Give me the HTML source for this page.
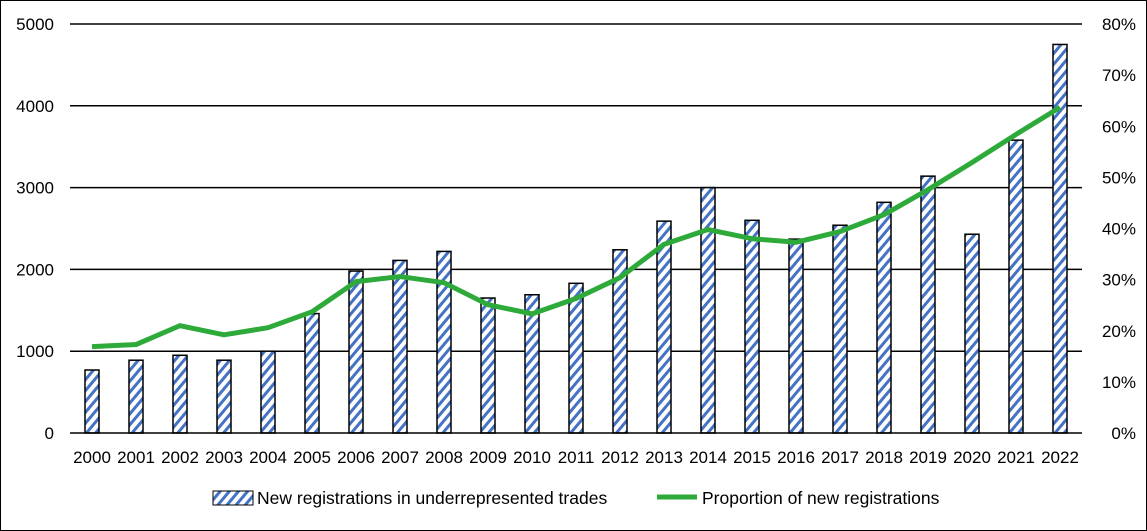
<!DOCTYPE html>
<html><head><meta charset="utf-8"><style>
html,body{margin:0;padding:0;background:#fff}
svg{display:block;font-family:"Liberation Sans",Calibri,sans-serif}
</style></head><body>
<svg id="c" width="1147" height="531" viewBox="0 0 1147 531">
<defs><pattern id="hatch" patternUnits="userSpaceOnUse" width="7" height="7" patternTransform="rotate(40)">
<rect width="7" height="7" fill="#fff"/><rect width="3" height="7" fill="#4472c4"/></pattern></defs>
<rect x="0.5" y="0.5" width="1146" height="530" fill="#fff" stroke="#000"/>
<g id="grid"></g><g id="bars"></g><g id="line"></g><g id="axes"></g>
<g>
<rect x="213" y="491" width="40" height="14" fill="url(#hatch)" stroke="#000"/>
<text x="257" y="504" font-size="17.5">New registrations in underrepresented trades</text>
<line x1="657" y1="497" x2="697" y2="497" stroke="#2eaa3a" stroke-width="5"/>
<text x="702" y="504" font-size="17.5">Proportion of new registrations</text>
</g>
</svg>
<script>
const years=["2000","2001","2002","2003","2004","2005","2006","2007","2008","2009","2010","2011","2012","2013","2014","2015","2016","2017","2018","2019","2020","2021","2022"];
const registrations=[770,890,950,890,1000,1460,1980,2110,2220,1650,1690,1830,2240,2590,3000,2600,2370,2540,2820,3140,2430,3580,4750];
const proportion=[16.9,17.3,21,19.2,20.6,23.7,29.6,30.6,29.4,25.1,23.3,26.3,30.4,36.9,39.8,38,37.3,39.4,42.7,47.6,52.9,58.4,63.7];
const leftTicks=[0,1000,2000,3000,4000,5000];
const rightTicks=[0,10,20,30,40,50,60,70,80];
const NS="http://www.w3.org/2000/svg";
const X0=70,X1=1082,Y0=433,Y1=24;
const step=(X1-X0)/years.length;
const xc=i=>X0+step*(i+0.5);
const yL=v=>Y0-(v/5000)*(Y0-Y1);
const yR=v=>Y0-(v/80)*(Y0-Y1);
function mk(tag,attrs,parent){const e=document.createElementNS(NS,tag);for(const k in attrs)e.setAttribute(k,attrs[k]);document.getElementById(parent).appendChild(e);return e;}
leftTicks.forEach(t=>{
 if(t>0){const g=mk('line',{x1:X0,x2:X1,y1:yL(t),y2:yL(t),stroke:'#000','stroke-width':1.5},'grid');
 
 }
 const l=mk('text',{x:54,y:yL(t)+6,'text-anchor':'end','font-size':17},'axes');l.textContent=t;
 
 
});
rightTicks.forEach(t=>{
 const l=mk('text',{x:1136,y:yR(t)+6,'text-anchor':'end','font-size':17},'axes');l.textContent=t+'%';
 
 
});
const base=mk('line',{x1:X0,x2:X1,y1:Y0,y2:Y0,stroke:'#000','stroke-width':1.5},'axes');


const bw=14;
registrations.forEach((v,i)=>{
 const b=mk('rect',{x:xc(i)-bw/2,y:yL(v),width:bw,height:Y0-yL(v),fill:'url(#hatch)',stroke:'#000','stroke-width':1.5},'bars');
 
 
 const l=mk('text',{x:xc(i),y:463,'text-anchor':'middle','font-size':17},'axes');l.textContent=years[i];
 
 
});
const pts=proportion.map((p,i)=>xc(i)+','+yR(p)).join(' ');
const pl=mk('polyline',{points:pts,fill:'none',stroke:'#2eaa3a','stroke-width':5,'stroke-linejoin':'round'},'line');


</script>
</body></html>
